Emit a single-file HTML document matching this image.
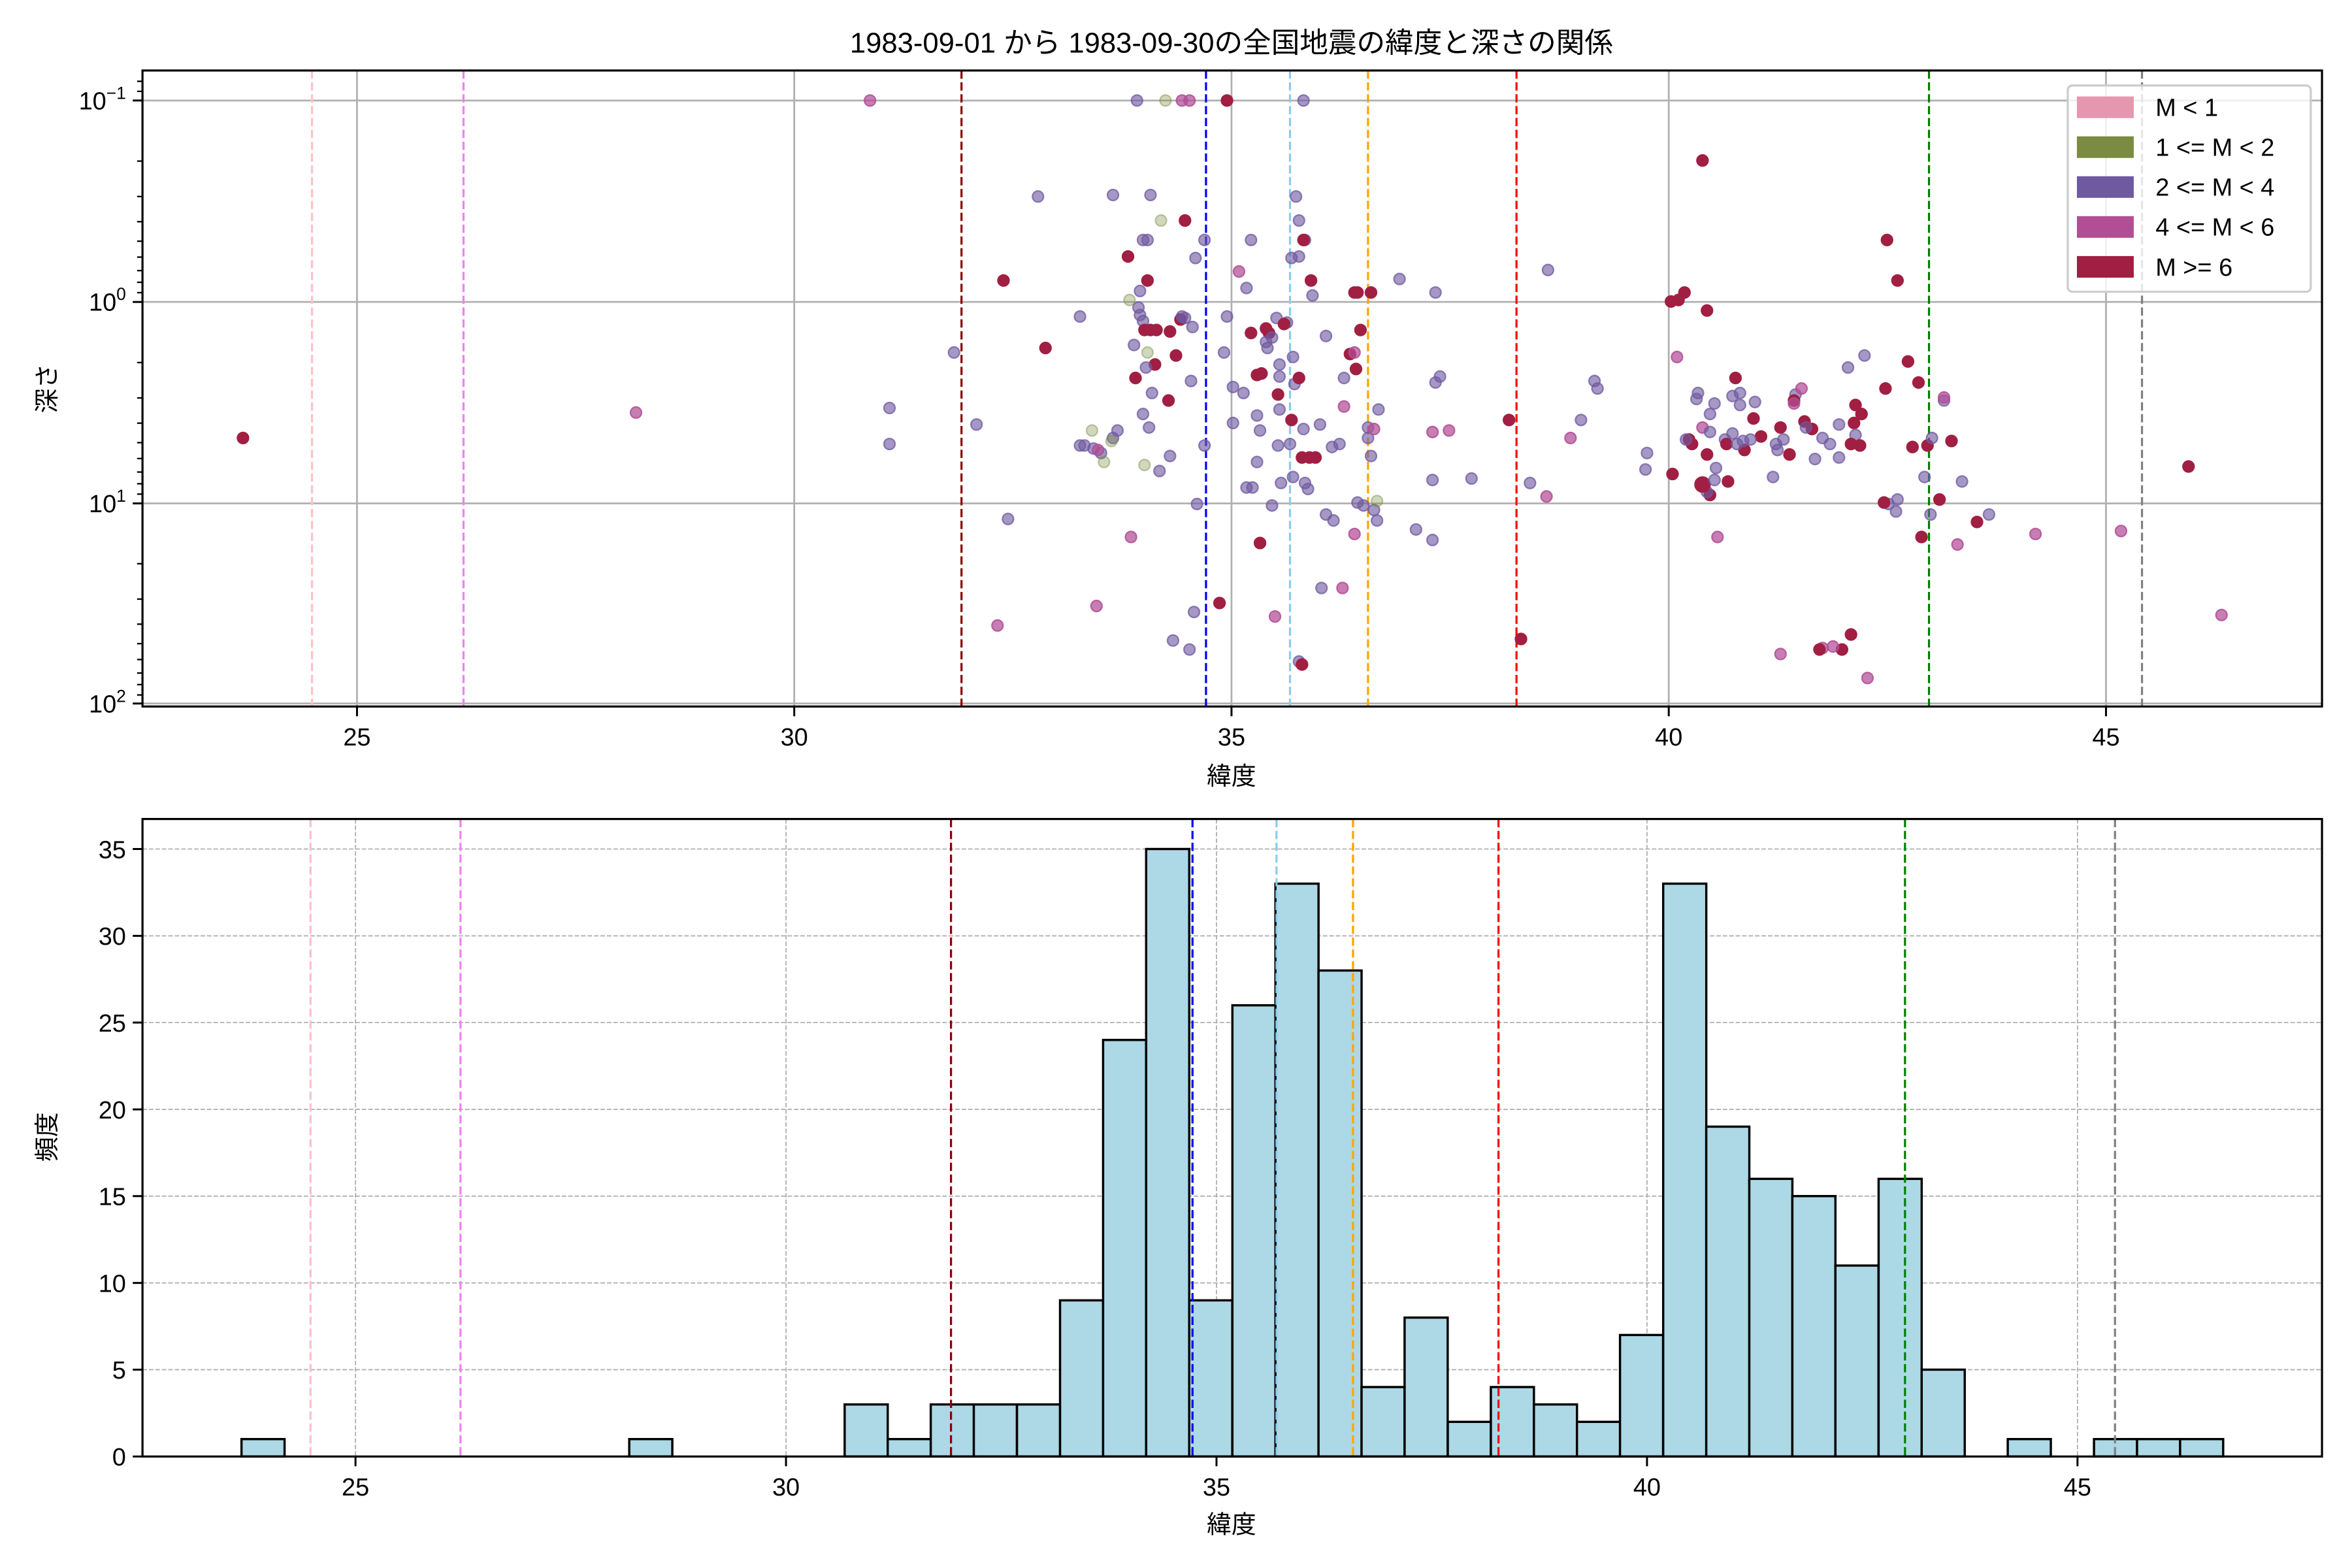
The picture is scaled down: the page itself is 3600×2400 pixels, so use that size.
<!DOCTYPE html>
<html><head><meta charset="utf-8"><style>
html,body{margin:0;padding:0;background:#fff}
svg{display:block}
text{font-family:"Liberation Sans","Noto Sans CJK JP",sans-serif;fill:#000}
.p{fill:#6f59a0;stroke:#6f59a0;fill-opacity:.62;stroke-opacity:.75;stroke-width:1}
.r{fill:#a11f42;stroke:#a11f42;fill-opacity:1;stroke-width:1}
.m{fill:#b24d96;stroke:#b24d96;fill-opacity:.72;stroke-opacity:.85;stroke-width:1}
.g{fill:#7b8b42;stroke:#7b8b42;fill-opacity:.35;stroke-opacity:.45;stroke-width:1}
circle{r:3.7px}
.vl{stroke-width:1.4;stroke-dasharray:5.5,2.4;fill:none}
.tk{font-size:16.5px}
</style></head><body>
<svg width="3600" height="2400" viewBox="0 0 1568 1045.33" xmlns="http://www.w3.org/2000/svg">
<rect x="0" y="0" width="1568" height="1046" fill="#fff"/>
<text x="821" y="35" text-anchor="middle" font-size="19">1983-09-01 から 1983-09-30の全国地震の緯度と深さの関係</text>

<g stroke="#b0b0b0" stroke-width="1.2">
<line x1="238" y1="47" x2="238" y2="471"/><line x1="529.5" y1="47" x2="529.5" y2="471"/><line x1="821" y1="47" x2="821" y2="471"/><line x1="1112.5" y1="47" x2="1112.5" y2="471"/><line x1="1404" y1="47" x2="1404" y2="471"/>
<line x1="95" y1="67" x2="1548" y2="67"/><line x1="95" y1="201.3" x2="1548" y2="201.3"/><line x1="95" y1="335.6" x2="1548" y2="335.6"/><line x1="95" y1="469" x2="1548" y2="469"/>
</g>
<g class="vl">
<line x1="208" y1="47" x2="208" y2="471" stroke="#ffc0cb"/>
<line x1="309" y1="47" x2="309" y2="471" stroke="#ee82ee"/>
<line x1="641" y1="47" x2="641" y2="471" stroke="#8b0000"/>
<line x1="804" y1="47" x2="804" y2="471" stroke="#0000ff"/>
<line x1="860" y1="47" x2="860" y2="471" stroke="#87ceeb"/>
<line x1="912" y1="47" x2="912" y2="471" stroke="#ffa500"/>
<line x1="1011" y1="47" x2="1011" y2="471" stroke="#ff0000"/>
<line x1="1286" y1="47" x2="1286" y2="471" stroke="#008000"/>
<line x1="1428" y1="47" x2="1428" y2="471" stroke="#808080"/>
</g>
<g>
<circle class="r" cx="162" cy="292"/><circle class="m" cx="424" cy="275"/><circle class="m" cx="580" cy="67"/>
<circle class="p" cx="692" cy="131"/><circle class="r" cx="669" cy="187"/><circle class="p" cx="720" cy="211"/><circle class="r" cx="697" cy="232"/><circle class="p" cx="636" cy="235"/><circle class="p" cx="651" cy="283"/><circle class="p" cx="593" cy="272"/><circle class="p" cx="593" cy="296"/><circle class="p" cx="723" cy="297"/><circle class="p" cx="672" cy="346"/><circle class="m" cx="665" cy="417"/>
<circle class="r" cx="818" cy="67"/><circle class="m" cx="793" cy="67"/><circle class="m" cx="788" cy="67"/><circle class="p" cx="758" cy="67"/><circle class="g" cx="777" cy="67"/><circle class="p" cx="869" cy="67"/>
<circle class="p" cx="742" cy="130"/><circle class="p" cx="767" cy="130"/><circle class="r" cx="790" cy="147"/><circle class="g" cx="774" cy="147"/><circle class="p" cx="765" cy="160"/><circle class="p" cx="762" cy="160"/><circle class="r" cx="752" cy="171"/><circle class="p" cx="803" cy="160"/><circle class="p" cx="797" cy="172"/><circle class="r" cx="765" cy="187"/><circle class="p" cx="760" cy="194"/><circle class="p" cx="759" cy="205"/><circle class="g" cx="753" cy="200"/><circle class="p" cx="760" cy="210"/><circle class="p" cx="762" cy="214"/><circle class="p" cx="756" cy="230"/><circle class="r" cx="767" cy="220"/><circle class="r" cx="763" cy="220"/><circle class="r" cx="771" cy="220"/><circle class="r" cx="784" cy="237"/><circle class="r" cx="770" cy="243"/><circle class="p" cx="764" cy="245"/><circle class="r" cx="757" cy="252"/><circle class="g" cx="765" cy="235"/><circle class="p" cx="768" cy="262"/><circle class="r" cx="779" cy="267"/><circle class="p" cx="762" cy="276"/><circle class="p" cx="766" cy="285"/><circle class="p" cx="745" cy="287"/><circle class="g" cx="728" cy="287"/><circle class="p" cx="742" cy="292"/><circle class="p" cx="720" cy="297"/><circle class="p" cx="734" cy="302"/><circle class="g" cx="741" cy="294"/><circle class="p" cx="729" cy="299"/><circle class="m" cx="732" cy="300"/><circle class="g" cx="763" cy="310"/><circle class="p" cx="773" cy="314"/><circle class="p" cx="780" cy="304"/><circle class="p" cx="794" cy="254"/><circle class="r" cx="787" cy="213"/><circle class="p" cx="788" cy="211"/><circle class="r" cx="780" cy="221"/><circle class="p" cx="790" cy="212"/><circle class="p" cx="795" cy="218"/><circle class="p" cx="803" cy="297"/><circle class="p" cx="798" cy="336"/><circle class="p" cx="796" cy="408"/><circle class="p" cx="793" cy="433"/><circle class="p" cx="782" cy="427"/><circle class="m" cx="754" cy="358"/><circle class="m" cx="731" cy="404"/><circle class="g" cx="736" cy="308"/>
<circle class="p" cx="834" cy="160"/><circle class="p" cx="831" cy="192"/><circle class="m" cx="826" cy="181"/><circle class="r" cx="834" cy="222"/><circle class="r" cx="844" cy="219"/><circle class="r" cx="846" cy="222"/><circle class="p" cx="848" cy="225"/><circle class="p" cx="818" cy="211"/><circle class="p" cx="851" cy="212"/><circle class="p" cx="845" cy="232"/><circle class="p" cx="816" cy="235"/><circle class="p" cx="829" cy="262"/><circle class="p" cx="838" cy="277"/><circle class="p" cx="844" cy="228"/><circle class="r" cx="838" cy="250"/><circle class="p" cx="853" cy="251"/><circle class="r" cx="852" cy="263"/><circle class="p" cx="840" cy="287"/><circle class="p" cx="838" cy="308"/><circle class="p" cx="852" cy="297"/><circle class="p" cx="854" cy="322"/><circle class="p" cx="848" cy="337"/><circle class="r" cx="840" cy="362"/><circle class="m" cx="850" cy="411"/><circle class="r" cx="813" cy="402"/>
<circle class="p" cx="822" cy="258"/><circle class="p" cx="822" cy="282"/><circle class="p" cx="831" cy="325"/><circle class="p" cx="835" cy="325"/><circle class="p" cx="853" cy="243"/><circle class="p" cx="853" cy="273"/><circle class="r" cx="841" cy="249"/>
<circle class="p" cx="864" cy="131"/><circle class="p" cx="866" cy="147"/><circle class="p" cx="870" cy="160"/><circle class="r" cx="869" cy="160"/><circle class="p" cx="866" cy="171"/><circle class="p" cx="861" cy="172"/><circle class="r" cx="874" cy="187"/><circle class="p" cx="875" cy="197"/><circle class="p" cx="858" cy="215"/><circle class="r" cx="856" cy="216"/><circle class="p" cx="862" cy="238"/><circle class="p" cx="863" cy="256"/><circle class="r" cx="866" cy="252"/><circle class="r" cx="861" cy="280"/><circle class="p" cx="860" cy="296"/><circle class="p" cx="862" cy="318"/><circle class="r" cx="873" cy="305"/><circle class="r" cx="868" cy="305"/><circle class="r" cx="877" cy="305"/><circle class="p" cx="869" cy="286"/><circle class="p" cx="872" cy="326"/><circle class="p" cx="870" cy="322"/><circle class="p" cx="880" cy="283"/><circle class="p" cx="881" cy="392"/><circle class="p" cx="884" cy="224"/><circle class="p" cx="884" cy="343"/><circle class="p" cx="889" cy="347"/><circle class="p" cx="888" cy="298"/><circle class="p" cx="893" cy="296"/><circle class="p" cx="896" cy="252"/><circle class="m" cx="896" cy="271"/><circle class="r" cx="900" cy="236"/><circle class="r" cx="904" cy="246"/><circle class="r" cx="907" cy="220"/><circle class="r" cx="905" cy="195"/><circle class="r" cx="914" cy="195"/><circle class="r" cx="903" cy="195"/><circle class="p" cx="914" cy="304"/><circle class="p" cx="912" cy="292"/><circle class="p" cx="912" cy="285"/><circle class="p" cx="916" cy="340"/><circle class="m" cx="903" cy="235"/><circle class="m" cx="903" cy="356"/><circle class="p" cx="909" cy="337"/><circle class="p" cx="919" cy="273"/><circle class="p" cx="918" cy="347"/><circle class="p" cx="905" cy="335"/><circle class="m" cx="895" cy="392"/><circle class="p" cx="866" cy="441"/><circle class="r" cx="868" cy="443"/><circle class="m" cx="916" cy="286"/><circle class="g" cx="918" cy="334"/>
<circle class="p" cx="933" cy="186"/><circle class="p" cx="957" cy="195"/><circle class="p" cx="944" cy="353"/><circle class="p" cx="955" cy="360"/><circle class="p" cx="960" cy="251"/><circle class="p" cx="957" cy="255"/><circle class="p" cx="955" cy="320"/><circle class="m" cx="955" cy="288"/><circle class="m" cx="966" cy="287"/><circle class="p" cx="981" cy="319"/><circle class="p" cx="1032" cy="180"/><circle class="p" cx="1054" cy="280"/><circle class="p" cx="1020" cy="322"/><circle class="m" cx="1031" cy="331"/><circle class="m" cx="1047" cy="292"/><circle class="p" cx="1063" cy="254"/><circle class="p" cx="1065" cy="259"/>
<circle class="r" cx="1006" cy="280"/><circle class="r" cx="1014" cy="426"/>
<circle class="r" cx="1135" cy="107"/><circle class="r" cx="1119" cy="200"/><circle class="r" cx="1123" cy="195"/><circle class="r" cx="1138" cy="207"/><circle class="m" cx="1118" cy="238"/><circle class="r" cx="1126" cy="293"/><circle class="r" cx="1128" cy="296"/><circle class="p" cx="1098" cy="302"/><circle class="p" cx="1097" cy="313"/><circle class="r" cx="1115" cy="316"/><circle class="p" cx="1132" cy="262"/><circle class="p" cx="1131" cy="266"/><circle class="m" cx="1135" cy="285"/><circle class="r" cx="1138" cy="303"/><circle class="p" cx="1140" cy="288"/><circle class="p" cx="1124" cy="293"/><circle class="p" cx="1140" cy="276"/><circle class="p" cx="1143" cy="269"/><circle class="p" cx="1150" cy="293"/><circle class="r" cx="1151" cy="296"/><circle class="r" cx="1163" cy="300"/><circle class="p" cx="1162" cy="294"/><circle class="p" cx="1155" cy="289"/><circle class="p" cx="1158" cy="296"/><circle class="r" cx="1140" cy="330"/><circle class="p" cx="1138" cy="328"/><circle class="r" cx="1135" cy="323" style="r:5px"/><circle class="p" cx="1144" cy="312"/><circle class="p" cx="1143" cy="320"/><circle class="r" cx="1152" cy="321"/><circle class="p" cx="1155" cy="264"/><circle class="p" cx="1160" cy="262"/><circle class="p" cx="1160" cy="270"/><circle class="r" cx="1157" cy="252"/><circle class="r" cx="1169" cy="279"/><circle class="p" cx="1170" cy="268"/><circle class="r" cx="1174" cy="291"/><circle class="r" cx="1187" cy="285"/><circle class="p" cx="1184" cy="296"/><circle class="p" cx="1189" cy="293"/><circle class="p" cx="1182" cy="318"/><circle class="r" cx="1193" cy="303"/><circle class="p" cx="1197" cy="263"/><circle class="p" cx="1185" cy="300"/><circle class="m" cx="1201" cy="259"/><circle class="r" cx="1196" cy="267"/><circle class="r" cx="1208" cy="286"/><circle class="r" cx="1203" cy="281"/><circle class="p" cx="1204" cy="285"/><circle class="p" cx="1215" cy="292"/><circle class="p" cx="1210" cy="306"/><circle class="p" cx="1220" cy="296"/><circle class="p" cx="1226" cy="283"/><circle class="m" cx="1196" cy="269"/><circle class="r" cx="1236" cy="282"/><circle class="p" cx="1237" cy="290"/><circle class="r" cx="1240" cy="297"/><circle class="p" cx="1232" cy="245"/><circle class="r" cx="1237" cy="270"/><circle class="r" cx="1241" cy="276"/><circle class="r" cx="1234" cy="296"/><circle class="p" cx="1226" cy="305"/><circle class="m" cx="1145" cy="358"/><circle class="m" cx="1215" cy="432"/><circle class="r" cx="1228" cy="433"/><circle class="m" cx="1222" cy="431"/><circle class="m" cx="1187" cy="436"/><circle class="r" cx="1213" cy="433"/><circle class="m" cx="1245" cy="452"/><circle class="r" cx="1234" cy="423"/><circle class="p" cx="1259" cy="336"/><circle class="p" cx="1265" cy="333"/><circle class="r" cx="1256" cy="335"/><circle class="p" cx="1264" cy="341"/><circle class="r" cx="1258" cy="160"/><circle class="r" cx="1265" cy="187"/><circle class="r" cx="1257" cy="259"/><circle class="r" cx="1272" cy="241"/><circle class="r" cx="1279" cy="255"/><circle class="p" cx="1283" cy="318"/><circle class="r" cx="1275" cy="298"/><circle class="r" cx="1285" cy="297"/><circle class="p" cx="1287" cy="343"/><circle class="r" cx="1281" cy="358"/><circle class="r" cx="1293" cy="333"/><circle class="p" cx="1288" cy="292"/><circle class="r" cx="1301" cy="294"/><circle class="p" cx="1296" cy="267"/><circle class="m" cx="1296" cy="265"/><circle class="p" cx="1308" cy="321"/><circle class="p" cx="1326" cy="343"/><circle class="r" cx="1318" cy="348"/><circle class="m" cx="1305" cy="363"/><circle class="m" cx="1357" cy="356"/><circle class="m" cx="1414" cy="354"/><circle class="m" cx="1481" cy="410"/><circle class="r" cx="1459" cy="311"/><circle class="p" cx="1243" cy="237"/><circle class="r" cx="1114" cy="201"/><circle class="p" cx="1167" cy="293"/>
</g>
<rect x="1378.5" y="57" width="162" height="137.5" rx="3" fill="#fff" fill-opacity=".8" stroke="#cccccc" stroke-width="1.4"/>
<rect x="1384.6" y="64.3" width="37.9" height="14.4" fill="#e597b0"/>
<rect x="1384.6" y="90.9" width="37.9" height="14.4" fill="#7b8b42"/>
<rect x="1384.6" y="117.5" width="37.9" height="14.4" fill="#6f59a0"/>
<rect x="1384.6" y="144.1" width="37.9" height="14.4" fill="#b24d96"/>
<rect x="1384.6" y="170.7" width="37.9" height="14.4" fill="#a11f42"/>
<g font-size="16.5">
<text x="1437" y="77.3">M &lt; 1</text>
<text x="1437" y="103.9">1 &lt;= M &lt; 2</text>
<text x="1437" y="130.5">2 &lt;= M &lt; 4</text>
<text x="1437" y="157.1">4 &lt;= M &lt; 6</text>
<text x="1437" y="183.7">M &gt;= 6</text>
</g>
<rect x="95" y="47" width="1453" height="424" fill="none" stroke="#000" stroke-width="1.4"/>
<g stroke="#000" stroke-width="1.3">
<line x1="238" y1="471" x2="238" y2="477.5"/><line x1="529.5" y1="471" x2="529.5" y2="477.5"/><line x1="821" y1="471" x2="821" y2="477.5"/><line x1="1112.5" y1="471" x2="1112.5" y2="477.5"/><line x1="1404" y1="471" x2="1404" y2="477.5"/>
<line x1="88.5" y1="67" x2="95" y2="67"/><line x1="88.5" y1="201.3" x2="95" y2="201.3"/><line x1="88.5" y1="335.6" x2="95" y2="335.6"/><line x1="88.5" y1="469" x2="95" y2="469"/>
</g>
<g stroke="#000" stroke-width="1">
<line x1="91.4" y1="60.9" x2="95" y2="60.9"/><line x1="91.4" y1="54.2" x2="95" y2="54.2"/>
<line x1="91.4" y1="107.4" x2="95" y2="107.4"/><line x1="91.4" y1="131.0" x2="95" y2="131.0"/><line x1="91.4" y1="147.8" x2="95" y2="147.8"/><line x1="91.4" y1="160.8" x2="95" y2="160.8"/><line x1="91.4" y1="171.4" x2="95" y2="171.4"/><line x1="91.4" y1="180.4" x2="95" y2="180.4"/><line x1="91.4" y1="188.2" x2="95" y2="188.2"/><line x1="91.4" y1="195.1" x2="95" y2="195.1"/>
<line x1="91.4" y1="241.7" x2="95" y2="241.7"/><line x1="91.4" y1="265.3" x2="95" y2="265.3"/><line x1="91.4" y1="282.1" x2="95" y2="282.1"/><line x1="91.4" y1="295.1" x2="95" y2="295.1"/><line x1="91.4" y1="305.7" x2="95" y2="305.7"/><line x1="91.4" y1="314.7" x2="95" y2="314.7"/><line x1="91.4" y1="322.5" x2="95" y2="322.5"/><line x1="91.4" y1="329.4" x2="95" y2="329.4"/>
<line x1="91.4" y1="375.8" x2="95" y2="375.8"/><line x1="91.4" y1="399.4" x2="95" y2="399.4"/><line x1="91.4" y1="416.1" x2="95" y2="416.1"/><line x1="91.4" y1="429.1" x2="95" y2="429.1"/><line x1="91.4" y1="439.7" x2="95" y2="439.7"/><line x1="91.4" y1="448.7" x2="95" y2="448.7"/><line x1="91.4" y1="456.4" x2="95" y2="456.4"/><line x1="91.4" y1="463.3" x2="95" y2="463.3"/>
</g>
<g class="tk" text-anchor="middle">
<text x="238" y="497">25</text><text x="529.5" y="497">30</text><text x="821" y="497">35</text><text x="1112.5" y="497">40</text><text x="1404" y="497">45</text>
</g>
<g class="tk" text-anchor="end">
<text x="84" y="73">10<tspan font-size="11.5" dy="-7">−1</tspan></text>
<text x="84" y="207">10<tspan font-size="11.5" dy="-7">0</tspan></text>
<text x="84" y="341.5">10<tspan font-size="11.5" dy="-7">1</tspan></text>
<text x="84" y="475">10<tspan font-size="11.5" dy="-7">2</tspan></text>
</g>
<text x="821" y="523" text-anchor="middle" font-size="16.5">緯度</text>
<text transform="translate(37,259) rotate(-90)" text-anchor="middle" font-size="16.5">深さ</text>

<g stroke="#b0b0b0" stroke-width=".8" stroke-dasharray="3,1.3">
<line x1="237" y1="546" x2="237" y2="971"/><line x1="524" y1="546" x2="524" y2="971"/><line x1="811" y1="546" x2="811" y2="971"/><line x1="1098" y1="546" x2="1098" y2="971"/><line x1="1385" y1="546" x2="1385" y2="971"/>
<line x1="95" y1="913.1" x2="1548" y2="913.1"/><line x1="95" y1="855.3" x2="1548" y2="855.3"/><line x1="95" y1="797.4" x2="1548" y2="797.4"/><line x1="95" y1="739.6" x2="1548" y2="739.6"/><line x1="95" y1="681.7" x2="1548" y2="681.7"/><line x1="95" y1="623.9" x2="1548" y2="623.9"/><line x1="95" y1="566" x2="1548" y2="566"/>
</g>
<g fill="#add8e6" stroke="#000" stroke-width="1.5">
<rect x="161" y="959.4" width="28.72" height="11.6"/>
<rect x="419.5" y="959.4" width="28.72" height="11.6"/>
<rect x="563.1" y="936.3" width="28.72" height="34.7"/>
<rect x="591.8" y="959.4" width="28.72" height="11.6"/>
<rect x="620.5" y="936.3" width="28.72" height="34.7"/>
<rect x="649.2" y="936.3" width="28.72" height="34.7"/>
<rect x="678" y="936.3" width="28.72" height="34.7"/>
<rect x="706.7" y="866.9" width="28.72" height="104.1"/>
<rect x="735.4" y="693.3" width="28.72" height="277.7"/>
<rect x="764.1" y="566" width="28.72" height="405"/>
<rect x="792.8" y="866.9" width="28.72" height="104.1"/>
<rect x="821.6" y="670.2" width="28.72" height="300.8"/>
<rect x="850.3" y="589.1" width="28.72" height="381.9"/>
<rect x="879" y="647" width="28.72" height="324"/>
<rect x="907.7" y="924.7" width="28.72" height="46.3"/>
<rect x="936.4" y="878.4" width="28.72" height="92.6"/>
<rect x="965.2" y="947.9" width="28.72" height="23.1"/>
<rect x="993.9" y="924.7" width="28.72" height="46.3"/>
<rect x="1022.6" y="936.3" width="28.72" height="34.7"/>
<rect x="1051.3" y="947.9" width="28.72" height="23.1"/>
<rect x="1080" y="890" width="28.72" height="81"/>
<rect x="1108.8" y="589.1" width="28.72" height="381.9"/>
<rect x="1137.5" y="751.1" width="28.72" height="219.9"/>
<rect x="1166.2" y="785.9" width="28.72" height="185.1"/>
<rect x="1194.9" y="797.4" width="28.72" height="173.6"/>
<rect x="1223.6" y="843.7" width="28.72" height="127.3"/>
<rect x="1252.4" y="785.9" width="28.72" height="185.1"/>
<rect x="1281.1" y="913.1" width="28.72" height="57.9"/>
<rect x="1338.5" y="959.4" width="28.72" height="11.6"/>
<rect x="1396" y="959.4" width="28.72" height="11.6"/>
<rect x="1424.7" y="959.4" width="28.72" height="11.6"/>
<rect x="1453.4" y="959.4" width="28.72" height="11.6"/>
</g>
<g class="vl">
<line x1="207" y1="546" x2="207" y2="971" stroke="#ffc0cb"/>
<line x1="307" y1="546" x2="307" y2="971" stroke="#ee82ee"/>
<line x1="634" y1="546" x2="634" y2="971" stroke="#8b0000"/>
<line x1="795" y1="546" x2="795" y2="971" stroke="#0000ff"/>
<line x1="851" y1="546" x2="851" y2="971" stroke="#87ceeb"/>
<line x1="902" y1="546" x2="902" y2="971" stroke="#ffa500"/>
<line x1="999" y1="546" x2="999" y2="971" stroke="#ff0000"/>
<line x1="1270" y1="546" x2="1270" y2="971" stroke="#008000"/>
<line x1="1410" y1="546" x2="1410" y2="971" stroke="#808080"/>
</g>
<rect x="95" y="546" width="1453" height="425" fill="none" stroke="#000" stroke-width="1.4"/>
<g stroke="#000" stroke-width="1.3">
<line x1="237" y1="971" x2="237" y2="977.5"/><line x1="524" y1="971" x2="524" y2="977.5"/><line x1="811" y1="971" x2="811" y2="977.5"/><line x1="1098" y1="971" x2="1098" y2="977.5"/><line x1="1385" y1="971" x2="1385" y2="977.5"/>
<line x1="88.5" y1="971" x2="95" y2="971"/><line x1="88.5" y1="913.1" x2="95" y2="913.1"/><line x1="88.5" y1="855.3" x2="95" y2="855.3"/><line x1="88.5" y1="797.4" x2="95" y2="797.4"/><line x1="88.5" y1="739.6" x2="95" y2="739.6"/><line x1="88.5" y1="681.7" x2="95" y2="681.7"/><line x1="88.5" y1="623.9" x2="95" y2="623.9"/><line x1="88.5" y1="566" x2="95" y2="566"/>
</g>
<g class="tk" text-anchor="middle">
<text x="237" y="997">25</text><text x="524" y="997">30</text><text x="811" y="997">35</text><text x="1098" y="997">40</text><text x="1385" y="997">45</text>
</g>
<g class="tk" text-anchor="end">
<text x="84" y="977">0</text><text x="84" y="919.1">5</text><text x="84" y="861.3">10</text><text x="84" y="803.4">15</text><text x="84" y="745.6">20</text><text x="84" y="687.7">25</text><text x="84" y="629.9">30</text><text x="84" y="572">35</text>
</g>
<text x="821" y="1022" text-anchor="middle" font-size="16.5">緯度</text>
<text transform="translate(37,758) rotate(-90)" text-anchor="middle" font-size="16.5">頻度</text>
</svg>
</body></html>
